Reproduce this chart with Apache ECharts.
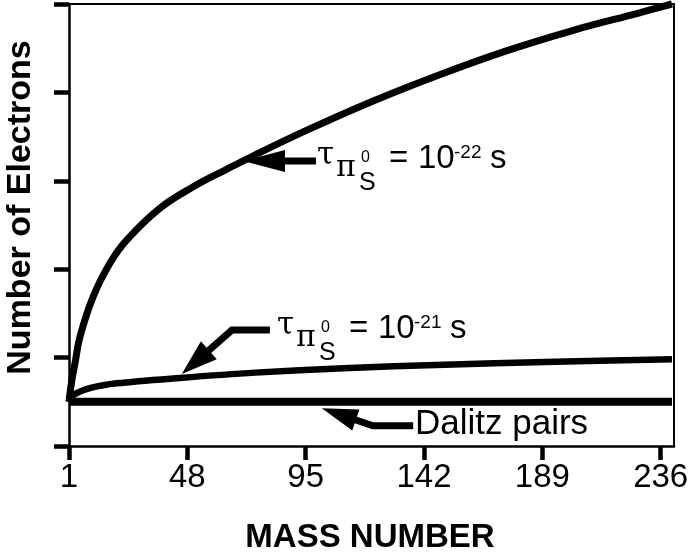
<!DOCTYPE html>
<html><head><meta charset="utf-8">
<script src="https://cdn.jsdelivr.net/npm/echarts@6/dist/echarts.min.js"></script>
<style>html,body{margin:0;padding:0;background:#fff}#c{width:692px;height:553px}</style>
</head><body><div id="c"></div>
<script>
// ---- data ----
const massTicks = [1, 48, 95, 142, 189, 236];
const tau22Mass = [1, 2, 3.4, 5.4, 10.6, 17.3, 23.9, 37.1, 50.2, 63.6, 74, 95.3, 121.6, 148.2, 174.7, 201, 227.6, 240.5];
const tau22Electrons = [0.5, 0.72, 0.94, 1.24, 1.69, 2.07, 2.33, 2.69, 2.93, 3.13, 3.28, 3.57, 3.90, 4.20, 4.47, 4.70, 4.90, 5.0];
const tau21Mass = [1, 3, 10, 20, 45, 75, 110, 150, 190, 240.5];
const tau21Electrons = [0.5, 0.58, 0.66, 0.71, 0.77, 0.83, 0.88, 0.92, 0.95, 0.98];
const dalitzMass = [1, 240.5];
const dalitzElectrons = [0.5, 0.5];

const zip = (xs, ys) => xs.map((x, i) => [x, ys[i]]);
const FONT = "'Liberation Sans', Arial, Helvetica, sans-serif";
const GREEK = "'DejaVu Serif', 'Liberation Serif', serif";

// annotation arrows (data coordinates: mass number, electrons)
const arrows = [
  { pts: [[99.1, 3.224], [70.1, 3.224]], len: 42, wid: 22 },
  { pts: [[80.8, 1.312], [65.7, 1.312], [45.8, 0.814]], len: 36, wid: 24 },
  { pts: [[137.7, 0.228], [121.7, 0.228], [101.4, 0.426]], len: 36, wid: 22 }
];

function tauLabel(x0, base, exp) {
  // [dx, baseline offset, text, size, family]
  const pieces = [
    [0, -3, '\u03c4', 31, GREEK],
    [19, 9, '\u03c0', 30, GREEK],
    [44, -7, '0', 16, FONT],
    [42, 22, 'S', 25, FONT],
    [72, 0, '=', 33, FONT],
    [101, 0, '10', 33, FONT],
    [137, -11, exp, 19, FONT],
    [173, 0, 's', 33, FONT]
  ];
  return pieces.map(p => ({
    type: 'text', x: x0 + p[0], y: base + p[1] - 0.35 * p[3], silent: true,
    style: { text: p[2], fill: '#000', font: p[3] + 'px ' + p[4], align: 'left', verticalAlign: 'middle' }
  }));
}

const chart = echarts.init(document.getElementById('c'), null, { renderer: 'canvas' });
const option = {
  animation: false,
  backgroundColor: '#fff',
  grid: { left: 69, right: 18, top: 4, bottom: 107, containLabel: false },
  xAxis: [{
    type: 'value', min: 1, max: 241.3, position: 'bottom',
    axisLine: { show: true, onZero: false, lineStyle: { color: '#000', width: 2.5 } },
    axisTick: { show: true, customValues: massTicks, length: 14, inside: false, lineStyle: { color: '#000', width: 4.5 } },
    axisLabel: { show: true, customValues: massTicks, margin: 15, fontSize: 33, color: '#000', fontFamily: FONT },
    splitLine: { show: false }
  }, {
    type: 'value', min: 1, max: 241.3, position: 'top',
    axisLine: { show: true, onZero: false, lineStyle: { color: '#000', width: 2 } },
    axisTick: { show: false }, axisLabel: { show: false }, splitLine: { show: false }
  }],
  yAxis: [{
    type: 'value', min: 0, max: 5, interval: 1, position: 'left',
    axisLine: { show: true, onZero: false, lineStyle: { color: '#000', width: 2.5 } },
    axisTick: { show: true, length: 15, inside: false, lineStyle: { color: '#000', width: 4.5 } },
    axisLabel: { show: false }, splitLine: { show: false }
  }, {
    type: 'value', min: 0, max: 5, interval: 1, position: 'right',
    axisLine: { show: true, onZero: false, lineStyle: { color: '#000', width: 2 } },
    axisTick: { show: false }, axisLabel: { show: false }, splitLine: { show: false }
  }],
  series: [
    { name: 'tau 1e-22 s', type: 'line', data: zip(tau22Mass, tau22Electrons), symbol: 'none', smooth: 0.4, clip: false, lineStyle: { color: '#000', width: 7 } },
    { name: 'tau 1e-21 s', type: 'line', data: zip(tau21Mass, tau21Electrons), symbol: 'none', smooth: 0.3, clip: false, lineStyle: { color: '#000', width: 6.5 } },
    { name: 'Dalitz pairs', type: 'line', data: zip(dalitzMass, dalitzElectrons), symbol: 'none', clip: false, lineStyle: { color: '#000', width: 8 } },
    {
      type: 'custom', silent: true, clip: false,
      data: arrows.map(a => a.pts[0]),
      renderItem: (params, api) => {
        const a = arrows[params.dataIndex];
        const pts = a.pts.map(p => api.coord(p));
        const tip = pts[pts.length - 1], prev = pts[pts.length - 2];
        const dx = tip[0] - prev[0], dy = tip[1] - prev[1], L = Math.hypot(dx, dy);
        const ux = dx / L, uy = dy / L;
        const base = [tip[0] - ux * a.len, tip[1] - uy * a.len];
        const shaft = pts.slice(0, -1).concat([[base[0] + ux * 3, base[1] + uy * 3]]);
        const h = a.wid / 2;
        return {
          type: 'group', children: [
            { type: 'polyline', shape: { points: shaft }, style: { stroke: '#000', lineWidth: 7, fill: null, lineJoin: 'miter' } },
            { type: 'polygon', shape: { points: [tip, [base[0] - uy * h, base[1] + ux * h], [base[0] + uy * h, base[1] - ux * h]] }, style: { fill: '#000' } }
          ]
        };
      }
    }
  ],
  graphic: [
    { type: 'text', x: 370, y: 538, silent: true, style: { text: 'MASS NUMBER', fill: '#000', font: 'bold 33px ' + FONT, align: 'center', verticalAlign: 'middle' } },
    { type: 'text', x: 21, y: 207.5, rotation: Math.PI / 2, silent: true, style: { text: 'Number of Electrons', fill: '#000', font: 'bold 34px ' + FONT, align: 'center', verticalAlign: 'middle' } },
    { type: 'text', x: 415, y: 437 - 0.35 * 35, silent: true, style: { text: 'Dalitz pairs', fill: '#000', font: '35px ' + FONT, align: 'left', verticalAlign: 'middle' } }
  ].concat(tauLabel(317, 170, '-22'), tauLabel(277, 340, '-21'))
};
chart.setOption(option);
</script>
</body></html>
